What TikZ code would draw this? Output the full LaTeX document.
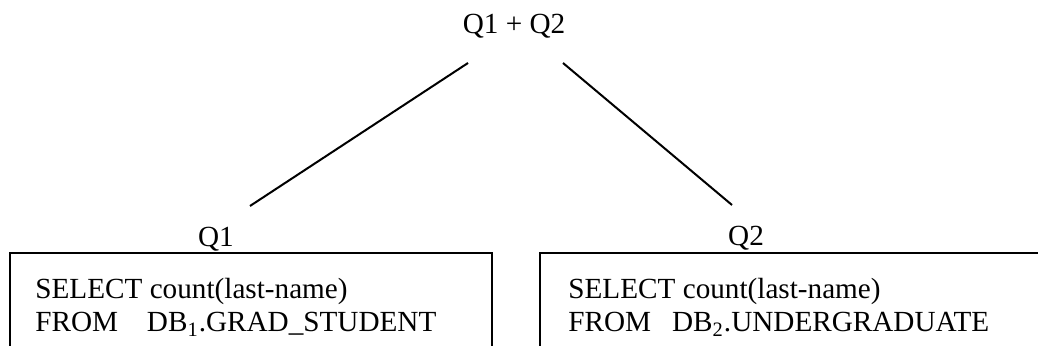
\documentclass[tikz,border=0pt]{standalone}
\usepackage{fontspec}
\setmainfont{Liberation Serif}
\tikzset{
  lbl/.style={anchor=base,inner sep=0pt,font=\fontsize{14.6pt}{16pt}\selectfont},
  sql/.style={anchor=base west,inner sep=0pt,font=\fontsize{14.6pt}{16pt}\selectfont},
  edge/.style={line width=1pt},
  qbox/.style={line width=1.1pt}
}

\begin{document}
\begin{tikzpicture}[x=0.5pt,y=-0.5pt]
  \useasboundingbox (0,0) rectangle (1038,346);
  \clip (0,0) rectangle (1038,346);
  % labels of the tree
  \node[lbl] (sum) at (514,34) {Q1 + Q2};
  \node[lbl] (q1) at (216,247) {Q1};
  \node[lbl] (q2) at (746,246) {Q2};
  \coordinate (sumL) at (468,63);
  \coordinate (sumR) at (563,63);
  \coordinate (q1T) at (250,206);
  \coordinate (q2T) at (732,205);
  \draw[edge] (sumL) -- (q1T);
  \draw[edge] (sumR) -- (q2T);
  % the two queries, boxes run off the bottom
  \draw[qbox] (10,360) -- (10,253) -- (492,253) -- (492,360);
  \draw[qbox] (540,360) -- (540,253) -- (1050,253);
  \node[sql] (sel1) at (35,299) {SELECT count(last-name)};
  \node[sql] (from1) at (35,332) {FROM\hspace{14.4pt}DB\textsubscript{1}.GRAD\_STUDENT};
  \node[sql] (sel2) at (568,299) {SELECT count(last-name)};
  \node[sql] (from2) at (568,332) {FROM\hspace{10.5pt}DB\textsubscript{2}.UNDERGRADUATE};
\end{tikzpicture}
\end{document}
